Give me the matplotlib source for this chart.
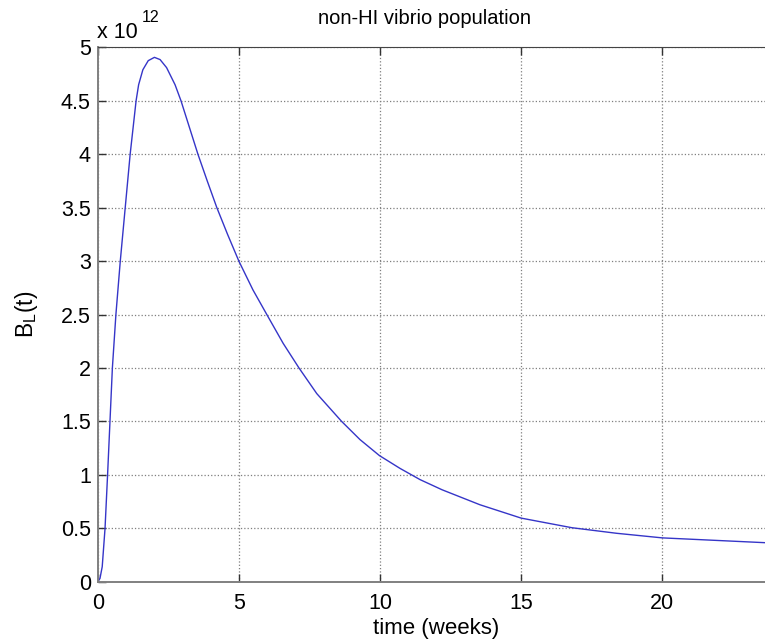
import matplotlib
matplotlib.use('Agg')
import matplotlib.pyplot as plt

# values, in units of 1e12
t_weeks = [0, 0.08, 0.16, 0.26, 0.35, 0.435, 0.52, 0.645, 0.8, 0.975, 1.15,
           1.36, 1.45, 1.6, 1.79, 2.01, 2.21, 2.44, 2.74, 2.95, 3.25, 3.55,
           3.88, 4.22, 4.6, 5.0, 5.5, 5.99, 6.57, 7.13, 7.76, 8.64,
           9.29, 9.98, 10.71, 11.42, 12.2, 13.54, 15.0, 16.8, 18.38, 20.0, 23.64]
b_l = [0, 0.03, 0.14, 0.5, 1.0, 1.5, 2.0, 2.5, 3.0, 3.5, 4.0,
       4.5, 4.65, 4.79, 4.875, 4.906, 4.885, 4.81, 4.65, 4.5, 4.25, 4.0,
       3.75, 3.5, 3.25, 3.0, 2.73, 2.5, 2.23, 2.0, 1.76, 1.5,
       1.33, 1.18, 1.06, 0.955, 0.86, 0.72, 0.595, 0.505, 0.453, 0.41, 0.365]

xticks = [0, 5, 10, 15, 20]
yticks = [0, 0.5, 1, 1.5, 2, 2.5, 3, 3.5, 4, 4.5, 5]
ytick_labels = ['0', '0.5', '1', '1.5', '2', '2.5', '3', '3.5', '4', '4.5', '5']

plt.rcParams['font.family'] = ['Liberation Sans', 'DejaVu Sans']
plt.rcParams['mathtext.fontset'] = 'custom'
plt.rcParams['mathtext.rm'] = 'Liberation Sans'

W, H = 765, 642
fig = plt.figure(figsize=(W / 100, H / 100), dpi=100)
ax = fig.add_axes([97.7 / W, (H - 581.7) / H, 677.5 / W, 534.4 / H])

ax.plot(t_weeks, b_l, color='#3535c8', lw=1)

ax.set_xlim(0, 24)
ax.set_ylim(0, 5)
ax.set_xticks(xticks)
ax.set_yticks(yticks)
ax.set_yticklabels(ytick_labels)
ax.grid(True, linestyle=':', color='#7f7f7f', lw=0.9)
ax.tick_params(direction='in', length=6, width=1, color='#333333',
               labelsize=15.5, top=True, right=False)
ax.tick_params(axis='x', pad=8)
ax.tick_params(axis='y', pad=5)
for s in ['left', 'bottom']:
    ax.spines[s].set_color('#808080')
    ax.spines[s].set_linewidth(1.4)
ax.spines['top'].set_color('#444444')
ax.spines['right'].set_visible(False)

ax.set_xlabel('time (weeks)', fontsize=16, labelpad=3)
ax.set_ylabel(r'B$_\mathregular{L}$(t)', fontsize=16.5, labelpad=15)
fig.text(425 / W, 1 - 18 / H, 'non-HI vibrio population', ha='center', va='center', fontsize=14.5)

fig.text(97 / W, 1 - 33 / H, 'x 10', ha='left', va='center', fontsize=15.5)
fig.text(142 / W, 1 - 17 / H, '12', ha='left', va='center', fontsize=11.5)

fig.savefig('out.png', dpi=100)
